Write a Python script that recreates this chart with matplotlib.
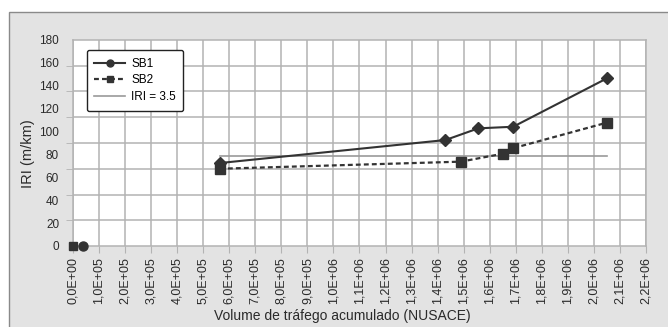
import matplotlib
matplotlib.use("Agg")
import matplotlib.pyplot as plt
from matplotlib.patches import Rectangle
from matplotlib.ticker import FixedLocator, FuncFormatter, MultipleLocator
from matplotlib.lines import Line2D

plt.rcParams['font.family'] = ['Liberation Sans', 'DejaVu Sans']

# dados
sb1_x = [5.64e5, 1.43e6, 1.556e6, 1.69e6, 2.05e6]
sb1_y = [72.5, 92.6, 102.8, 104.2, 146.5]
sb2_x = [5.64e5, 1.489e6, 1.652e6, 1.689e6, 2.05e6]
sb2_y = [67.5, 73.7, 80.7, 85.4, 107.8]
iri_x = [5.64e5, 2.05e6]
iri_y = [79, 79]
sb1_zero_x = [4e4]
sb1_zero_y = [0]
sb2_zero_x = [0]
sb2_zero_y = [0]

y_labels = [0, 20, 40, 60, 80, 100, 120, 140, 160, 180]

dark = '#333333'
grid_c = '#b3b3b3'
txt_c = '#2a2a2a'

fig = plt.figure(figsize=(6.68, 3.27), dpi=100)
fig.patch.set_facecolor('white')
# moldura cinza do gráfico
fig.patches.append(Rectangle((9 / 668, -0.1), 1.0, 1.1 - 12 / 327,
                             transform=fig.transFigure, facecolor='#e3e3e3',
                             edgecolor='#8a8a8a', linewidth=1.0, zorder=-10))

ax = fig.add_axes([73 / 668, 1 - 246 / 327, 573 / 668, 206 / 327])
ax.set_facecolor('white')

ax.plot(sb1_x, sb1_y, '-', color=dark, lw=1.5, marker='D', ms=6.5, zorder=4)
ax.plot(sb2_x, sb2_y, '--', color=dark, lw=1.6, marker='s', ms=6.5,
        dashes=(2.2, 1.4), zorder=4)
ax.plot(iri_x, iri_y, '-', color='#9a9a9a', lw=1.2, zorder=3)
ax.plot(sb1_zero_x, sb1_zero_y, 'o', color=dark, ms=6.5, clip_on=False, zorder=5)
ax.plot(sb2_zero_x, sb2_zero_y, 's', color=dark, ms=6, clip_on=False, zorder=5)

ax.set_xlim(0, 2.2e6)
ax.set_ylim(0, 180)

# eixo x
ax.xaxis.set_major_locator(MultipleLocator(1e5))
ax.xaxis.set_major_formatter(FuncFormatter(lambda v, p: f"{v:.1E}".replace('.', ',')))
ax.tick_params(axis='x', which='major', labelrotation=90, labelsize=9,
               length=5, color=grid_c, labelcolor=txt_c, pad=3)

# eixo y: rótulos de 20 em 20, grade em 8 intervalos como no original
ax.yaxis.set_major_locator(FixedLocator(y_labels))
ax.yaxis.set_minor_locator(FixedLocator([i * 22.5 for i in range(9)]))
ax.yaxis.set_minor_formatter(FuncFormatter(lambda v, p: ''))
ax.tick_params(axis='y', which='major', length=0, labelsize=8.5,
               labelcolor=txt_c, pad=10)
ax.tick_params(axis='y', which='minor', length=5, color=grid_c)

ax.grid(True, axis='x', which='major', color=grid_c, lw=1.1)
ax.grid(True, axis='y', which='minor', color=grid_c, lw=1.1)
ax.grid(False, axis='y', which='major')
ax.set_axisbelow(True)
for s in ax.spines.values():
    s.set_color(grid_c)
    s.set_linewidth(1.1)

ax.set_ylabel('IRI (m/km)', fontsize=10.5, color=txt_c)
ax.yaxis.set_label_coords(-0.066, 0.45)
ax.set_xlabel('Volume de tráfego acumulado (NUSACE)', fontsize=10,
              color=txt_c)
ax.xaxis.set_label_coords(0.47, -0.305)

handles = [
    Line2D([], [], color=dark, lw=1.5, marker='o', ms=5),
    Line2D([], [], color=dark, lw=1.6, ls='--', dashes=(2.2, 1.4), marker='s', ms=5),
    Line2D([], [], color='#9a9a9a', lw=1.2),
]
leg = ax.legend(handles, ['SB1', 'SB2', 'IRI = 3.5'], loc='upper left',
                bbox_to_anchor=(0.024, 0.951), borderaxespad=0, fontsize=8.5,
                frameon=True, fancybox=True, handlelength=2.6,
                labelspacing=0.4, borderpad=0.65, handletextpad=0.5)
leg.get_frame().set_edgecolor('#222222')
leg.get_frame().set_linewidth(1.0)
leg.get_frame().set_alpha(1)

fig.savefig('out.png', dpi=100)
